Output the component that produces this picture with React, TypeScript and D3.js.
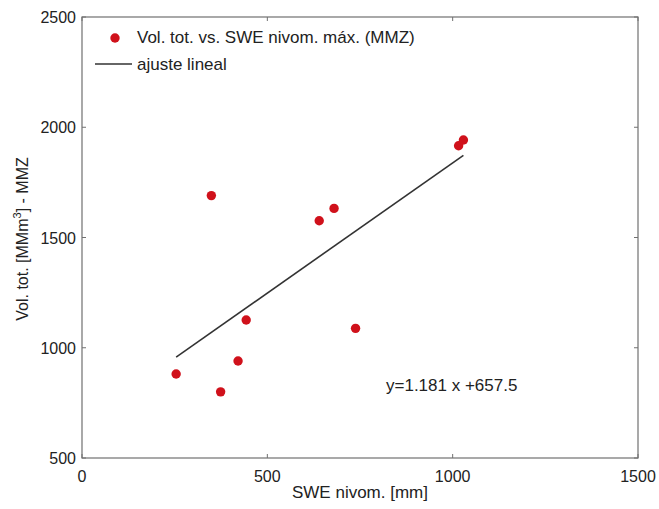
import React from "react";
import * as d3 from "d3";

const sweValues = [254, 374, 421, 443, 349, 640, 680, 738, 1016, 1029];
const volValues = [881, 800, 940, 1126, 1690, 1576, 1632, 1088, 1916, 1942];
const xTicks = [0, 500, 1000, 1500];
const yTicks = [500, 1000, 1500, 2000, 2500];
const slope = 1.181;
const intercept = 657.5;
const legendLabels = ["Vol. tot. vs. SWE nivom. máx. (MMZ)", "ajuste lineal"];
const equationLabel = "y=1.181 x +657.5";

const W = 659;
const H = 509;
const M = { left: 82, right: 21, top: 17, bottom: 51 };
const FONT = "'Liberation Sans', Arial, Helvetica, sans-serif";

export default function App() {
  const x = d3.scaleLinear().domain([0, 1500]).range([M.left, W - M.right]);
  const y = d3.scaleLinear().domain([500, 2500]).range([H - M.bottom, M.top]);
  const xMin = d3.min(sweValues) as number;
  const xMax = d3.max(sweValues) as number;
  const line = d3
    .line<number>()
    .x((d) => x(d))
    .y((d) => y(slope * d + intercept));
  const axisColor = "#707070";
  const textColor = "#222";
  const tickLen = 4;
  return (
    <svg
      width={W}
      height={H}
      style={{ position: "absolute", left: 0, top: 0, background: "#fff" }}
      fontFamily={FONT}
    >
      <rect x={0} y={0} width={W} height={H} fill="#fff" />
      {/* frame */}
      <rect
        x={M.left}
        y={M.top}
        width={W - M.right - M.left}
        height={H - M.bottom - M.top}
        fill="none"
        stroke={axisColor}
        strokeWidth={1.2}
      />
      {/* x ticks */}
      {xTicks.map((t) => (
        <g key={"xt" + t}>
          <line x1={x(t)} x2={x(t)} y1={y(500)} y2={y(500) - tickLen} stroke={axisColor} />
          <line x1={x(t)} x2={x(t)} y1={y(2500)} y2={y(2500) + tickLen} stroke={axisColor} />
          <text x={x(t)} y={y(500) + 24} textAnchor="middle" fontSize={16} fill={textColor}>
            {t}
          </text>
        </g>
      ))}
      {/* y ticks */}
      {yTicks.map((t) => (
        <g key={"yt" + t}>
          <line x1={x(0)} x2={x(0) + tickLen} y1={y(t)} y2={y(t)} stroke={axisColor} />
          <line x1={x(1500)} x2={x(1500) - tickLen} y1={y(t)} y2={y(t)} stroke={axisColor} />
          <text x={x(0) - 6} y={y(t) + 6} textAnchor="end" fontSize={16} fill={textColor}>
            {t}
          </text>
        </g>
      ))}
      {/* axis labels */}
      <text x={360} y={498} textAnchor="middle" fontSize={17} fill={textColor}>
        SWE nivom. [mm]
      </text>
      <text
        transform={`translate(28, 239) rotate(-90)`}
        textAnchor="middle"
        fontSize={16}
        fill={textColor}
      >
        Vol. tot. [MMm
        <tspan dy={-7} fontSize={11}>3</tspan>
        <tspan dy={7}>] - MMZ</tspan>
      </text>
      {/* fit line */}
      <path d={line([xMin, xMax]) || ""} fill="none" stroke="#333" strokeWidth={1.6} />
      {/* points */}
      {sweValues.map((v, i) => (
        <circle key={"p" + i} cx={x(v)} cy={y(volValues[i])} r={4.7} fill="#d0111b" />
      ))}
      {/* legend */}
      <circle cx={115} cy={38} r={4.7} fill="#d0111b" />
      <text x={137} y={43} fontSize={17} fill={textColor}>
        {legendLabels[0]}
      </text>
      <line x1={95} x2={132} y1={64} y2={64} stroke="#333" strokeWidth={1.6} />
      <text x={137} y={70} fontSize={17} fill={textColor}>
        {legendLabels[1]}
      </text>
      {/* equation */}
      <text x={386} y={391} fontSize={17} fill={textColor}>
        {equationLabel}
      </text>
    </svg>
  );
}
